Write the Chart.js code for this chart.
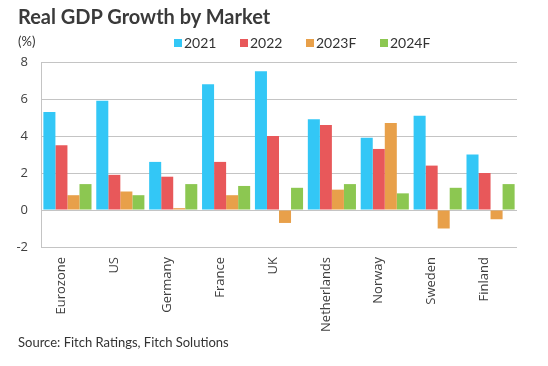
<!DOCTYPE html>
<html>
<head>
<meta charset="utf-8">
<script src="https://cdn.jsdelivr.net/npm/chart.js@4.4.0/dist/chart.umd.min.js"></script>
<style>
  html, body { margin: 0; padding: 0; background: #fff; }
  #wrap { position: relative; width: 548px; height: 366px; overflow: hidden; }
  #c { position: absolute; left: 0; top: 0; }
  .t { position: absolute; font-family: Lato, sans-serif; color: #333; white-space: nowrap; }
  #title { left: 18px; top: 4px; font-size: 20px; font-weight: bold; color: #3a3a3a; }
  #unit { left: 18px; top: 33px; font-size: 13px; }
  #source { left: 18px; top: 334px; font-size: 13px; }
  .lg { position: absolute; top: 34px; font-family: Lato, sans-serif; font-size: 14px; color: #333; white-space: nowrap; }
  .lg i { display: inline-block; width: 8px; height: 8px; margin-right: 2px; vertical-align: 1px; }
</style>
</head>
<body>
<div id="wrap">
  <canvas id="c" width="548" height="366"></canvas>
  <div class="t" id="title">Real GDP Growth by Market</div>
  <div class="t" id="unit">(%)</div>
  <div id="legend"></div>
  <div class="t" id="source">Source: Fitch Ratings, Fitch Solutions</div>
</div>
<script>
const categories = ['Eurozone', 'US', 'Germany', 'France', 'UK', 'Netherlands', 'Norway', 'Sweden', 'Finland'];
const seriesNames = ['2021', '2022', '2023F', '2024F'];
const values2021  = [5.3, 5.9, 2.6, 6.8, 7.5, 4.9, 3.9, 5.1, 3.0];
const values2022  = [3.5, 1.9, 1.8, 2.6, 4.0, 4.6, 3.3, 2.4, 2.0];
const values2023F = [0.8, 1.0, 0.1, 0.8, -0.7, 1.1, 4.7, -1.0, -0.5];
const values2024F = [1.4, 0.8, 1.4, 1.3, 1.2, 1.4, 0.9, 1.2, 1.4];
const yTicks = [-2, 0, 2, 4, 6, 8];
const colors = ['#33C7F6', '#E8585A', '#E8A04A', '#8CC751'];

const allValues = [values2021, values2022, values2023F, values2024F];

// HTML legend
const legendX = [174, 240, 306, 380];
const legendEl = document.getElementById('legend');
seriesNames.forEach((n, i) => {
  const d = document.createElement('div');
  d.className = 'lg';
  d.style.left = legendX[i] + 'px';
  d.innerHTML = '<i style="background:' + colors[i] + '"></i>' + n;
  legendEl.appendChild(d);
});

new Chart(document.getElementById('c'), {
  type: 'bar',
  data: {
    labels: categories,
    datasets: seriesNames.map((n, i) => ({
      label: n,
      data: allValues[i],
      backgroundColor: colors[i],
      borderWidth: 0,
      categoryPercentage: 0.91,
      barPercentage: 1.0
    }))
  },
  options: {
    responsive: false,
    animation: false,
    devicePixelRatio: 1,
    layout: { padding: { top: 62, right: 31, bottom: 0, left: 0 } },
    plugins: { legend: { display: false }, title: { display: false }, tooltip: { enabled: false } },
    scales: {
      x: {
        grid: { display: false, drawTicks: false },
        border: { display: false },
        ticks: {
          minRotation: 90, maxRotation: 90, autoSkip: false,
          padding: 10, labelOffset: -6,
          color: '#404040',
          font: { family: 'Open Sans', size: 13 }
        },
        afterFit(scale) { scale.height = 119; }
      },
      y: {
        min: -2, max: 8,
        afterBuildTicks(scale) { scale.ticks = yTicks.map(v => ({ value: v })); },
        grid: { color: '#C4C4C4', lineWidth: 1, drawTicks: false },
        border: { display: true, color: '#C4C4C4' },
        ticks: {
          padding: 13,
          color: '#404040',
          font: { family: 'Open Sans', size: 13 }
        },
        afterFit(scale) { scale.width = 41; }
      }
    }
  }
});
</script>
</body>
</html>
